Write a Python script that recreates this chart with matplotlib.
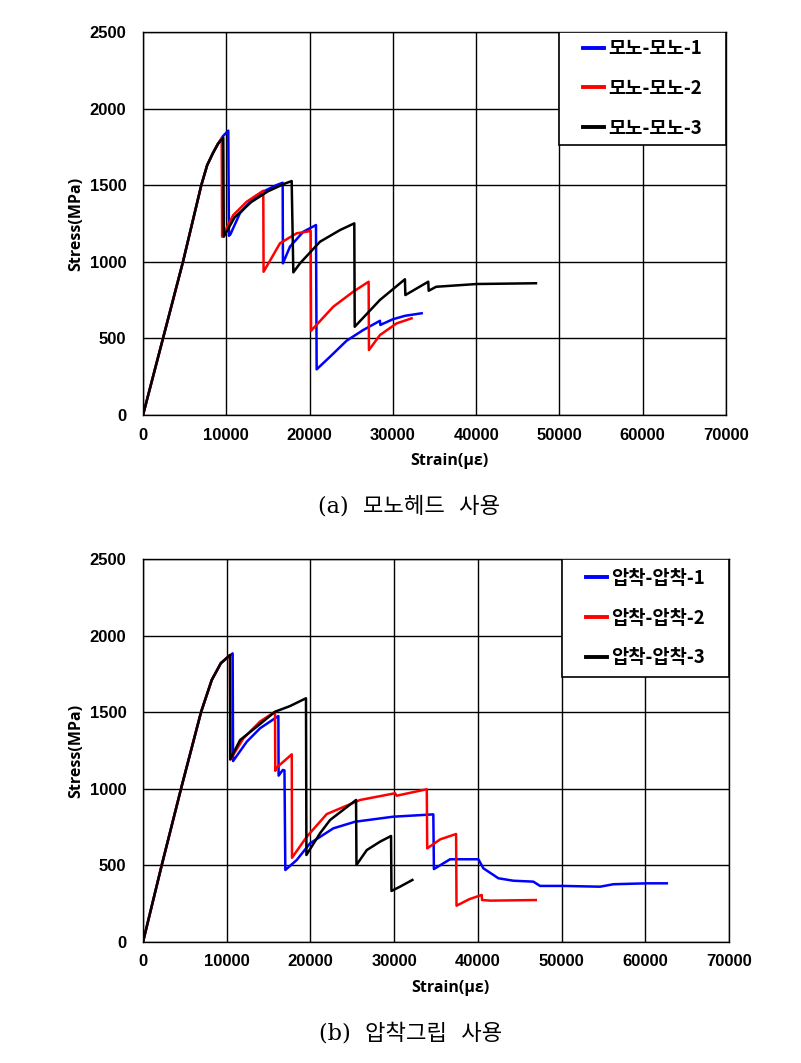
import matplotlib.pyplot as plt
from matplotlib.patches import Rectangle

plt.rcParams['font.family'] = ['Noto Sans CJK KR', 'DejaVu Sans']

# (a) mono-head
a1_strain = [0, 2400, 4800, 7000, 7700, 8400, 9000, 9600, 10240, 10320, 10500, 11640, 13000, 14500, 16000, 16770,
             16800, 17650, 19240, 20770, 20850, 22450, 24450, 26450, 28450, 28500, 30000, 31500, 33460]
a1_stress = [0, 500, 1000, 1500, 1630, 1710, 1770, 1820, 1856, 1170, 1180, 1317, 1400, 1460, 1500, 1516,
             990, 1099, 1196, 1240, 298, 380, 485, 555, 615, 588, 625, 648, 664]
a2_strain = [0, 2400, 4800, 7000, 7700, 8400, 9000, 9450, 9500, 10840, 12450, 14440, 14480, 16450, 18450, 20130,
             20180, 22850, 25250, 27090, 27130, 28450, 30450, 32250]
a2_stress = [0, 500, 1000, 1500, 1630, 1710, 1770, 1806, 1164, 1305, 1392, 1464, 935, 1121, 1186, 1201,
             550, 707, 805, 870, 424, 522, 598, 631]
a3_strain = [0, 2400, 4800, 7000, 7700, 8400, 9000, 9640, 9700, 11000, 13000, 15000, 17000, 17850, 18050, 18850,
             21250, 23650, 25370, 25420, 28450, 31450, 31500, 34250, 34300, 35200, 40060, 47180]
a3_stress = [0, 500, 1000, 1500, 1630, 1710, 1770, 1810, 1164, 1290, 1390, 1460, 1510, 1527, 931, 990,
             1131, 1207, 1251, 576, 751, 886, 783, 870, 811, 837, 855, 860]

# (b) compression grip
b1_strain = [0, 2230, 4540, 6930, 8210, 9300, 10710, 10760, 12390, 13980, 16170, 16200, 16700, 16900, 17000, 18360,
             19950, 22740, 25330, 29900, 34680, 34750, 36680, 40060, 40660, 42450, 44240, 46630, 47430, 50220,
             54600, 56190, 60180, 62570]
b1_stress = [0, 500, 1000, 1500, 1710, 1820, 1884, 1181, 1307, 1395, 1475, 1086, 1123, 1120, 470, 535,
             644, 742, 785, 818, 833, 476, 540, 540, 481, 416, 400, 394, 366, 366,
             361, 377, 383, 383]
b2_strain = [0, 2230, 4540, 6930, 8210, 9300, 10390, 10450, 12000, 14000, 15770, 15800, 16000, 17770, 17800, 19560,
             21950, 25930, 30110, 30300, 33900, 33950, 35500, 37400, 37450, 39000, 40460, 40500, 41500, 46920]
b2_stress = [0, 500, 1000, 1500, 1710, 1820, 1873, 1192, 1330, 1440, 1503, 1118, 1140, 1225, 550, 687,
             835, 927, 971, 955, 997, 611, 670, 705, 237, 280, 307, 274, 270, 274]
b3_strain = [0, 2230, 4540, 6930, 8210, 9300, 10390, 10420, 11590, 13580, 15770, 17560, 19470, 19520, 21150, 22340,
             25450, 25500, 26730, 28320, 29630, 29680, 30700, 32180]
b3_stress = [0, 500, 1000, 1500, 1710, 1820, 1873, 1192, 1318, 1405, 1503, 1540, 1591, 568, 710, 796,
             927, 503, 600, 655, 692, 333, 361, 405]

labels_a = ['모노-모노-1', '모노-모노-2', '모노-모노-3']
labels_b = ['압착-압착-1', '압착-압착-2', '압착-압착-3']
colors = ['#0000ff', '#ff0000', '#000000']

fig = plt.figure(figsize=(8.01, 10.63), dpi=100)
ax_a = fig.add_axes([143 / 801, 1 - 415 / 1063, 583 / 801, 383 / 1063])
ax_b = fig.add_axes([143 / 801, 1 - 942 / 1063, 586 / 801, 383 / 1063])


def draw(ax, series, labels, caption, box):
    for (x, y), lab, c in zip(series, labels, colors):
        ax.plot(x, y, color=c, lw=1.8, label=lab)
    ax.set_xlim(0, 70000)
    ax.set_ylim(0, 2500)
    ax.set_xticks(range(0, 70001, 10000))
    ax.set_yticks(range(0, 2501, 500))
    ax.grid(True, color='black', lw=1)
    ax.set_axisbelow(True)
    ax.tick_params(axis='x', length=0, pad=9)
    ax.tick_params(axis='y', length=0, pad=12)
    for t in ax.get_xticklabels() + ax.get_yticklabels():
        t.set_family(['Liberation Sans', 'DejaVu Sans'])
        t.set_fontweight('bold')
        t.set_fontsize(12)
    for s in ax.spines.values():
        s.set_color('black')
        s.set_linewidth(1)
    ax.set_xlabel('Strain(με)', fontsize=11.5, fontweight='bold', family=['Open Sans', 'DejaVu Sans'])
    ax.set_ylabel('Stress(MPa)', fontsize=11.5, fontweight='bold', family=['Open Sans', 'DejaVu Sans'])
    ax.xaxis.set_label_coords(0.525, -0.098)
    ax.yaxis.set_label_coords(-0.10, 0.5)

    # legend box (white, black frame) drawn over the grid
    x0, y0 = box
    ax.add_patch(Rectangle((x0, y0), 1 - x0, 1 - y0, transform=ax.transAxes,
                           facecolor='white', edgecolor='black', lw=1.2, zorder=3))
    leg = ax.legend(loc='center', bbox_to_anchor=(x0 + (1 - x0) / 2, y0 + (1 - y0) / 2),
                    frameon=False, handlelength=1.1, handletextpad=0.25,
                    labelspacing=1.1, borderpad=0, prop={'weight': 'bold', 'size': 13.5})
    leg.set_zorder(4)
    for line in leg.get_lines():
        line.set_linewidth(2.8)
    ax.text(0.456, -0.24, caption, transform=ax.transAxes, ha='center', va='center',
            fontsize=16, family=['DejaVu Serif', 'Noto Sans CJK KR'], fontweight='light')


draw(ax_a, [(a1_strain, a1_stress), (a2_strain, a2_stress), (a3_strain, a3_stress)], labels_a,
     '(a)  모노헤드  사용', ((559 - 143) / 583, (415 - 145) / 383))
draw(ax_b, [(b1_strain, b1_stress), (b2_strain, b2_stress), (b3_strain, b3_stress)], labels_b,
     '(b)  압착그립  사용', ((562 - 143) / 586, (942 - 677) / 383))

fig.savefig('out.png', dpi=100)
